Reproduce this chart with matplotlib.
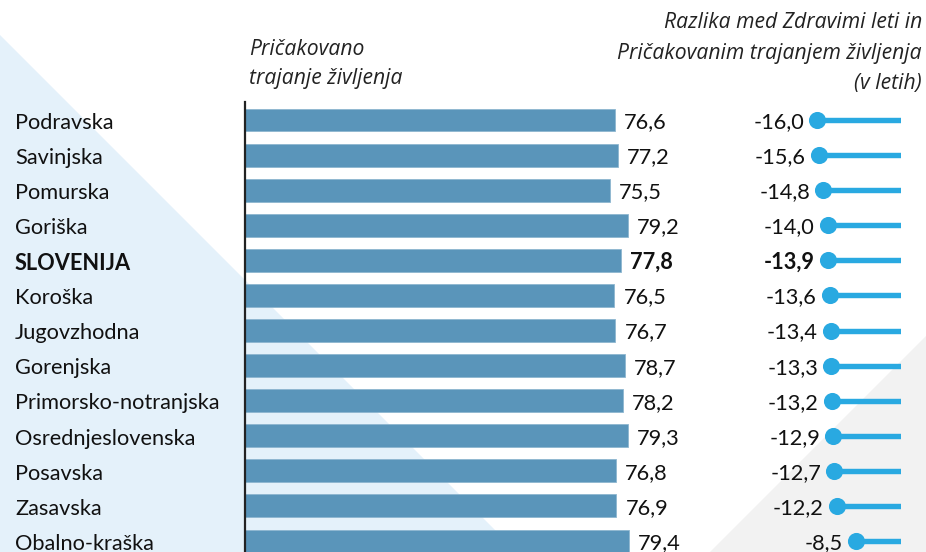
import matplotlib
matplotlib.use("Agg")
import matplotlib.pyplot as plt
from matplotlib.patches import Polygon
import matplotlib.transforms as mtransforms

regions = ["Podravska", "Savinjska", "Pomurska", "Goriška", "SLOVENIJA", "Koroška",
           "Jugovzhodna", "Gorenjska", "Primorsko-notranjska", "Osrednjeslovenska",
           "Posavska", "Zasavska", "Obalno-kraška"]
life_exp = [76.6, 77.2, 75.5, 79.2, 77.8, 76.5, 76.7, 78.7, 78.2, 79.3, 76.8, 76.9, 79.4]
diff_healthy = [-16.0, -15.6, -14.8, -14.0, -13.9, -13.6, -13.4, -13.3, -13.2, -12.9,
                -12.7, -12.2, -8.5]
highlight = "SLOVENIJA"

title_left = "Pričakovano\ntrajanje življenja"
title_right = "Razlika med Zdravimi leti in\nPričakovanim trajanjem življenja\n(v letih)"

W, H = 926, 552
plt.rcParams['font.family'] = ['Lato', 'DejaVu Sans']
fig = plt.figure(figsize=(W / 100, H / 100), dpi=100)

def fx(px):
    return px / W

def fy(py):
    return 1 - py / H

# background axis with triangles
bg = fig.add_axes([0, 0, 1, 1], zorder=-10)
bg.set_xlim(0, W)
bg.set_ylim(H, 0)
bg.axis("off")
bg.add_patch(Polygon([(0, 35), (517, 552), (0, 552)], closed=True,
                     facecolor="#E4F1FA", edgecolor="none"))
bg.add_patch(Polygon([(926, 336), (926, 552), (710, 552)], closed=True,
                     facecolor="#F2F2F2", edgecolor="none"))

n = len(regions)
rows = list(range(n))
ax_top, ax_bot = 102, 552
ylim = (n - 1 + 0.313, -0.513)

# bars axis
bar_left, bar_px_per_unit, bar_w = 245, 4.83, 420
ax1 = fig.add_axes([fx(bar_left), fy(ax_bot), bar_w / W, (ax_bot - ax_top) / H])
ax1.set_facecolor("none")
ax1.barh(rows, life_exp, height=0.655, color="#5A95BA", edgecolor="#8DB6D0",
         linewidth=0.6, zorder=2)
ax1.set_xlim(0, bar_w / bar_px_per_unit)
ax1.set_ylim(*ylim)
for s in ["top", "right", "bottom"]:
    ax1.spines[s].set_visible(False)
ax1.spines["left"].set_color("#222222")
ax1.spines["left"].set_linewidth(1.6)
ax1.set_xticks([])
ax1.set_yticks([])

fs = 15.7
lab_tr = mtransforms.blended_transform_factory(fig.transFigure, ax1.transData)
for i, (r, v) in enumerate(zip(regions, life_exp)):
    w = "bold" if r == highlight else "normal"
    ax1.annotate(r, xy=(fx(15), i), xycoords=lab_tr, xytext=(0, -2),
                 textcoords="offset points", ha="left", va="center", fontsize=fs,
                 fontweight=w, color="#111111", annotation_clip=False)
    ax1.annotate(f"{v:.1f}".replace(".", ","), xy=(v, i), xytext=(6.5, -1.5),
                 textcoords="offset points", ha="left", va="center", fontsize=fs,
                 fontweight=w, color="#111111", annotation_clip=False)

# lollipop axis
lol_zero, lol_px_per_unit, lol_w = 901, 5.24, 220
ax2 = fig.add_axes([fx(lol_zero - lol_w), fy(ax_bot), lol_w / W, (ax_bot - ax_top) / H])
ax2.set_facecolor("none")
ax2.hlines(rows, diff_healthy, 0, color="#29A9E1", linewidth=3.9, zorder=2)
ax2.plot(diff_healthy, rows, "o", color="#29A9E1", markersize=11.3, zorder=3,
         clip_on=False)
ax2.set_xlim(-lol_w / lol_px_per_unit, 0)
ax2.set_ylim(*ylim)
ax2.axis("off")
for i, (r, v) in enumerate(zip(regions, diff_healthy)):
    w = "bold" if r == highlight else "normal"
    ax2.annotate(f"{v:.1f}".replace(".", ","), xy=(v, i), xytext=(-9.5, -1.5),
                 textcoords="offset points", ha="right", va="center", fontsize=fs,
                 fontweight=w, color="#111111", annotation_clip=False)

# titles
fig.text(fx(249), fy(64), title_left, ha="left", va="center", fontsize=15.2,
         style="italic", color="#222222", linespacing=1.55, family="Open Sans")
fig.text(fx(922), fy(53), title_right, ha="right", va="center", fontsize=15.2,
         style="italic", color="#222222", linespacing=1.6, multialignment="right",
         family="Open Sans")

fig.savefig("out.png", dpi=100)
